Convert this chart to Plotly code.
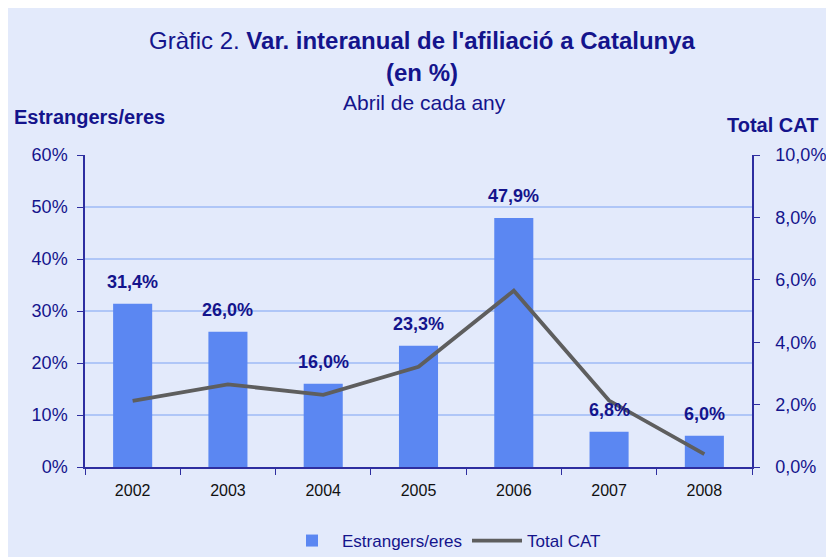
import plotly.graph_objects as go

years = ["2002", "2003", "2004", "2005", "2006", "2007", "2008"]
estrangers = [31.4, 26.0, 16.0, 23.3, 47.9, 6.8, 6.0]
total_cat = [2.12, 2.65, 2.31, 3.21, 5.65, 2.13, 0.41]
left_ticks = [0, 10, 20, 30, 40, 50, 60]
left_labels = ["0%", "10%", "20%", "30%", "40%", "50%", "60%"]
right_ticks = [0, 2, 4, 6, 8, 10]
right_labels = ["0,0%", "2,0%", "4,0%", "6,0%", "8,0%", "10,0%"]

NAVY = "#14148C"
AXIS = "#2E2EA0"
BG = "#E3EAFB"
BAR = "#5B87F2"
LINE = "#5E5E5E"
GRID = "#AFC6F7"
FONT = "Liberation Sans, Arial, sans-serif"

# page body adds an 8px offset; work in window pixels and subtract it
OFF = 8
FW, FH = 834 - OFF, 557 - OFF
L, R, T, B = 85, 752, 155, 467  # plot area in window pixels
W, H = R - L, B - T
def px(x):
    return (x - L) / W
def py(y):
    return (B - y) / H

fig = go.Figure()
fig.add_trace(go.Bar(
    x=years, y=estrangers, name="Estrangers/eres",
    marker=dict(color=BAR, line=dict(width=0)), yaxis="y",
))
fig.add_trace(go.Scatter(
    x=years, y=total_cat, name="Total CAT", mode="lines",
    line=dict(color=LINE, width=3.8), yaxis="y2",
))

for i, v in enumerate(estrangers):
    fig.add_annotation(x=i, y=v, xref="x", yref="y", showarrow=False,
                       text=("%.1f" % v).replace(".", ",") + "%",
                       yanchor="bottom", yshift=10,
                       font=dict(family=FONT, size=18, color=NAVY, weight="bold"))

fig.update_layout(
    width=FW, height=FH,
    margin=dict(l=L - OFF, r=834 - R, t=T - OFF, b=557 - B, autoexpand=False),
    paper_bgcolor=BG, plot_bgcolor=BG,
    bargap=0.59,
    font=dict(family=FONT, color=NAVY),
    showlegend=True,
    legend=dict(orientation="h", x=px(444), xanchor="center", y=py(541), yanchor="middle",
                font=dict(size=17, color=NAVY), bgcolor="rgba(0,0,0,0)", traceorder="normal",
                itemwidth=50),
    xaxis=dict(type="category", range=[-0.5, len(years) - 0.5], autorange=False,
               showline=True, linecolor=AXIS, linewidth=1.5,
               ticks="outside", tickson="boundaries", ticklen=6, tickcolor=AXIS,
               ticklabelstandoff=8,
               tickfont=dict(size=16, color="#111111"), showgrid=False),
    yaxis=dict(range=[0, 60], tickvals=left_ticks, ticktext=left_labels,
               showline=True, linecolor=AXIS, linewidth=1.5, ticks="outside",
               ticklen=6, tickcolor=AXIS, gridcolor=GRID, gridwidth=1.6,
               ticklabelstandoff=6,
               tickfont=dict(size=18, color=NAVY), zeroline=False),
    yaxis2=dict(range=[0, 10], tickvals=right_ticks, ticktext=right_labels,
                overlaying="y", side="right", showline=True, linecolor=AXIS,
                linewidth=1.5, ticks="outside", ticklen=6, tickcolor=AXIS,
                ticklabelstandoff=12,
                showgrid=False, zeroline=False, tickfont=dict(size=18, color=NAVY)),
)

ann = [
    (px(422), py(40), "Gràfic 2. <b>Var. interanual de l'afiliació a Catalunya</b>", 24, "center"),
    (px(422), py(72), "<b>(en %)</b>", 24, "center"),
    (px(424), py(103), "Abril de cada any", 21, "center"),
    (px(12), py(117), "<b>Estrangers/eres</b>", 20, "left"),
    (px(820), py(125), "<b>Total CAT</b>", 20, "right"),
]
for x, y, t, s, xa in ann:
    fig.add_annotation(x=x, y=y, xref="paper", yref="paper", text=t, showarrow=False,
                       xanchor=xa, yanchor="middle", font=dict(size=s, color=NAVY, family=FONT))

fig.write_html("out.html")
